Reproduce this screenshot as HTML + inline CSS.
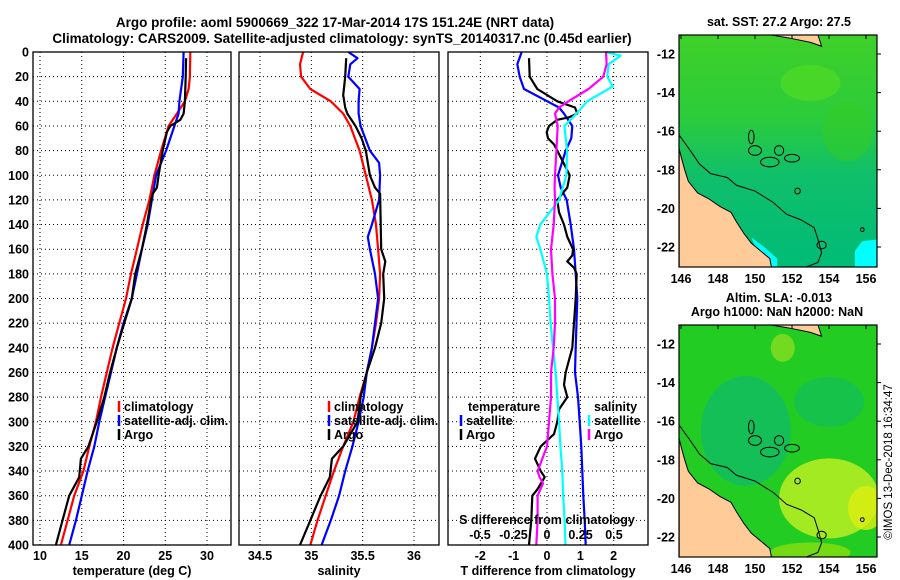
<!DOCTYPE html>
<html><head><meta charset="utf-8"><style>
html,body{margin:0;padding:0;background:#fff;}
svg{display:block;font-family:"Liberation Sans",Arial,sans-serif;font-weight:bold;}
</style></head><body>
<svg id="fig" width="900" height="580" viewBox="0 0 900 580" xmlns="http://www.w3.org/2000/svg">
<text x="335" y="27" font-size="13.5" text-anchor="middle">Argo profile: aoml 5900669_322 17-Mar-2014 17S 151.24E (NRT data)</text>
<text x="342" y="43" font-size="13.5" text-anchor="middle">Climatology: CARS2009. Satellite-adjusted climatology: synTS_20140317.nc (0.45d earlier)</text>
<g id="p1"></g>
<g id="p2"></g>
<g id="p3"></g>
<g id="m1"></g>
<g id="m2"></g>
<text transform="translate(892,462) rotate(-90)" font-size="11.5" font-weight="normal" text-anchor="middle">©IMOS 13-Dec-2018 16:34:47</text>
</svg>
<script>
// ---- data ----
const depthTick = [0,20,40,60,80,100,120,140,160,180,200,220,240,260,280,300,320,340,360,380,400];
const tempTicks = [10,15,20,25,30];
const salTicks = [34.5,35,35.5,36];
const tdiffTicks = [-2,-1,0,1,2];
const sdiffTicks = [-0.5,-0.25,0,0.25,0.5];
const sdiffLabels = ["-0.5","-0.25","0","0.25","0.5"];

const climTDepth = [0,20,30,40,50,60,80,100,120,140,160,180,200,220,240,260,280,300,320,340,360,380,400];
const climT = [28.0,27.95,27.8,27.35,26.4,25.4,24.5,23.7,23.1,22.3,21.6,20.9,20.3,19.5,18.7,18.0,17.3,16.7,15.9,15.2,14.1,13.3,12.5];
const satTDepth = [0,20,40,50,60,80,100,120,140,160,180,200,220,240,260,280,300,320,340,360,380,400];
const satT = [27.2,27.1,26.7,26.6,26.1,25.1,23.9,23.4,22.9,22.2,21.6,21.0,20.0,19.2,18.5,17.8,17.1,16.5,15.7,15.0,14.3,13.5];
const argoTDepth = [5,20,40,50,55,60,65,80,100,110,115,120,140,160,180,200,220,240,260,280,300,320,330,345,360,380,400];
const argoT = [27.5,27.45,27.35,27.2,26.8,25.6,25.2,24.7,24.2,24.0,23.5,23.3,22.8,22.2,21.4,21.0,20.1,19.2,18.4,17.7,16.8,15.8,14.9,14.7,13.5,12.7,11.9];

const climSDepth = [0,10,20,30,40,50,60,80,100,120,140,160,180,200,220,240,260,280,300,320,340,360,380,400];
const climS = [34.92,34.89,34.90,34.99,35.19,35.31,35.38,35.47,35.53,35.59,35.63,35.65,35.67,35.66,35.63,35.59,35.54,35.47,35.41,35.31,35.22,35.14,35.06,34.99];
const satSDepth = [0,5,10,20,30,40,50,60,80,90,100,120,140,150,160,180,200,220,240,260,280,300,320,340,360,380,400];
const satS = [35.36,35.45,35.38,35.36,35.47,35.46,35.46,35.48,35.57,35.66,35.67,35.66,35.59,35.55,35.57,35.62,35.65,35.62,35.59,35.54,35.51,35.46,35.40,35.33,35.27,35.19,35.10];
const argoSDepth = [5,20,35,45,50,60,70,80,100,110,115,160,170,180,200,220,240,260,280,300,320,330,345,360,380,400];
const argoS = [35.34,35.33,35.31,35.33,35.35,35.43,35.49,35.53,35.57,35.62,35.67,35.68,35.72,35.70,35.71,35.68,35.62,35.54,35.48,35.45,35.31,35.20,35.18,35.09,34.99,34.89];

const satTdDepth = [0,10,20,30,40,45,50,60,70,80,100,110,120,140,160,180,200,240,260,280,300,320,340,360,380,400];
const satTd = [-0.76,-0.89,-0.82,-0.69,0.01,0.36,0.51,0.76,0.73,0.56,0.33,0.41,0.59,0.71,0.81,0.86,0.91,0.86,0.84,0.93,0.98,1.03,1.06,1.09,1.13,1.16];
const argoTdDepth = [5,20,30,40,45,50,53,55,60,65,70,75,80,100,110,120,130,140,150,160,165,170,175,180,200,220,240,260,270,280,290,300,310,320,330,340,345,355,360,380,400];
const argoTd = [-0.54,-0.52,-0.29,0.31,0.84,0.91,0.66,0.31,0.06,-0.01,0.03,0.21,0.31,0.68,0.61,0.31,0.36,0.51,0.61,0.78,0.76,0.61,0.81,0.89,0.86,0.81,0.76,0.56,0.51,0.61,0.36,0.31,0.21,-0.19,-0.36,-0.19,-0.07,-0.29,-0.44,-0.47,-0.54];
const satSdDepth = [0,3,10,20,28,40,50,60,80,100,120,140,150,160,180,200,220,240,260,280,300,320,340,360,380,400];
const satSd = [0.436,0.55,0.46,0.45,0.49,0.30,0.22,0.13,0.15,0.145,0.09,-0.05,-0.08,-0.05,0.0,0.015,0.027,0.045,0.064,0.077,0.09,0.10,0.114,0.121,0.131,0.138];
const argoSdDepth = [0,10,20,30,40,45,50,60,80,100,110,120,140,160,180,200,220,240,260,280,300,320,340,345,350,355,360,380,400];
const argoSd = [0.44,0.445,0.42,0.31,0.16,0.09,0.06,0.08,0.07,0.06,0.057,0.06,0.05,0.03,0.04,0.06,0.06,0.05,0.03,0.03,0.015,0.0,-0.07,-0.055,-0.03,-0.05,-0.07,-0.07,-0.08];

// ---- helpers ----
const NS="http://www.w3.org/2000/svg";
function mk(tag,parent,attrs){const e=document.createElementNS(NS,tag);for(const k in attrs)e.setAttribute(k,attrs[k]);parent.appendChild(e);return e;}
const PT=52, PB=545;
const yD = d => PT + d*(PB-PT)/400;

function panel(g, x0, x1, ticks, labels, sx, title, showY){
  for(const t of ticks){
    const l=mk('line',g,{x1:sx(t),x2:sx(t),y1:PT,y2:PB,stroke:'#000','stroke-width':1,'stroke-dasharray':'1,3'});
    
    
  }
  depthTick.forEach((d,i)=>{
    if(i>0&&i<depthTick.length-1){
      const l=mk('line',g,{x1:x0,x2:x1,y1:yD(d),y2:yD(d),stroke:'#000','stroke-width':1,'stroke-dasharray':'1,3'});
      
      
    }
    if(showY){
      const t=mk('text',g,{x:x0-4,y:yD(d)+4.5,'font-size':12.5,'text-anchor':'end'});
      t.textContent=d;
      
      
    }
  });
  ticks.forEach((t,i)=>{
    const tx=mk('text',g,{x:sx(t),y:560,'font-size':12.5,'text-anchor':'middle'});
    tx.textContent=labels[i];
    
    
  });
  const tt=mk('text',g,{x:(x0+x1)/2,y:575,'font-size':12.5,'text-anchor':'middle'});
  tt.textContent=title;
  
  
}
function line(g, depths, vals, sx, color, name){
  const p=depths.map((d,i)=>(i?'L':'M')+sx(vals[i]).toFixed(1)+','+yD(d).toFixed(1)).join('');
  const e=mk('path',g,{d:p,fill:'none',stroke:color,'stroke-width':2.2,'stroke-linejoin':'round'});
  
  
}
function frame(g,x0,x1){
  const r=mk('rect',g,{x:x0,y:PT,width:x1-x0,height:PB-PT,fill:'none',stroke:'#000','stroke-width':1.3});
  
  
}
function legend(g,x,y,items){
  items.forEach((it,i)=>{
    const b=mk('line',g,{x1:x,x2:x,y1:y+i*14-10,y2:y+i*14+1,stroke:it[1],'stroke-width':2.5});
    
    
    const t=mk('text',g,{x:x+5,y:y+i*14,'font-size':12.5});
    t.textContent=it[0];
    
    
  });
}

// panel 1
const g1=document.getElementById('p1');
const sT=v=>40+(v-10)*8.35;
panel(g1,33,231,tempTicks,tempTicks.map(String),sT,'temperature (deg C)',true);
line(g1,climTDepth,climT,sT,'#ff0000','climatology-temp-line');
line(g1,satTDepth,satT,sT,'#0000ff','satellite-temp-line');
line(g1,argoTDepth,argoT,sT,'#000','argo-temp-line');
legend(g1,119,411,[['climatology','#ff0000'],['satellite-adj. clim.','#0000ff'],['Argo','#000']]);
frame(g1,33,231);

// panel 2
const g2=document.getElementById('p2');
const sS=v=>260+(v-34.5)*102.67;
panel(g2,239,439,salTicks,salTicks.map(String),sS,'salinity',false);
line(g2,climSDepth,climS,sS,'#ff0000','climatology-salinity-line');
line(g2,satSDepth,satS,sS,'#0000ff','satellite-salinity-line');
line(g2,argoSDepth,argoS,sS,'#000','argo-salinity-line');
legend(g2,329,411,[['climatology','#ff0000'],['satellite-adj. clim.','#0000ff'],['Argo','#000']]);
frame(g2,239,439);

// panel 3
const g3=document.getElementById('p3');
const sTd=v=>547+v*33.33;
const sSd=v=>547+v*134;
panel(g3,448,648,tdiffTicks,tdiffTicks.map(String),sTd,'T difference from climatology',false);
line(g3,satTdDepth,satTd,sTd,'#0000ff','satellite-tdiff-line');
line(g3,argoTdDepth,argoTd,sTd,'#000','argo-tdiff-line');
line(g3,satSdDepth,satSd,sSd,'#00ffff','satellite-sdiff-line');
line(g3,argoSdDepth,argoSd,sSd,'#ff00ff','argo-sdiff-line');
{
  const t=mk('text',g3,{x:468,y:411,'font-size':12.5});t.textContent='temperature';
  
  
  const s=mk('text',g3,{x:594,y:411,'font-size':12.5});s.textContent='salinity';
  
  
}
legend(g3,461,425,[['satellite','#0000ff'],['Argo','#000']]);
legend(g3,589,425,[['satellite','#00ffff'],['Argo','#ff00ff']]);
{
  const t=mk('text',g3,{x:547,y:524,'font-size':12.5,'text-anchor':'middle'});t.textContent='S difference from climatology';
  
  
  sdiffTicks.forEach((v,i)=>{
    const tx=mk('text',g3,{x:sSd(v),y:539,'font-size':12.5,'text-anchor':'middle'});
    tx.textContent=sdiffLabels[i];
    
    
  });
}
frame(g3,448,648);

// maps
const lonTicks=[146,148,150,152,154,156];
const latTicks=[-12,-14,-16,-18,-20,-22];
const landLL=[[145.9,-16.9],[146.0,-17.3],[146.2,-18.0],[146.4,-18.6],[146.9,-19.2],[147.5,-19.5],[148.1,-19.9],[148.7,-20.2],[149.0,-20.7],[149.4,-21.3],[149.8,-21.8],[150.3,-22.2],[150.8,-22.6],[150.9,-23.1],[145.9,-23.1]];
const contourLL=[[145.9,-16.2],[146.5,-17.0],[147.0,-17.7],[147.6,-18.2],[148.5,-18.4],[149.0,-18.8],[150.0,-19.1],[151.0,-19.7],[151.7,-20.3],[152.5,-20.6],[153.2,-21.0],[153.4,-21.6],[153.6,-22.3],[153.4,-22.8],[152.6,-23.1]];
const reefLL=[[149.8,-16.3,0.15,0.35],[150.0,-17.0,0.35,0.25],[150.8,-17.6,0.5,0.25],[151.3,-17.0,0.25,0.25],[152.0,-17.4,0.4,0.2],[152.3,-19.1,0.15,0.15],[153.6,-21.9,0.25,0.2],[155.8,-21.1,0.1,0.1]];

function map(g,top,bottom,title1,title2,kind){
  const x0=679,x1=877;
  const lonX=l=>681+(l-146)*18.5;
  const latY=l=>top+19+(-12-l)*19.3;
  const id='clip'+kind;
  const cp=mk('clipPath',g,{id:id});mk('rect',cp,{x:x0,y:top,width:x1-x0,height:bottom-top});
  const c=mk('g',g,{'clip-path':'url(#'+id+')'});
  const defs=mk('defs',g,{});
  if(kind==='sst'){
    const lg=mk('linearGradient',defs,{id:'gs',x1:0,y1:0,x2:0,y2:1});
    mk('stop',lg,{offset:'0','stop-color':'#3fd02a'});
    mk('stop',lg,{offset:'0.35','stop-color':'#2ccc3a'});
    mk('stop',lg,{offset:'0.6','stop-color':'#10bf6a'});
    mk('stop',lg,{offset:'1','stop-color':'#00bb77'});
    mk('rect',c,{x:x0,y:top,width:x1-x0,height:bottom-top,fill:'url(#gs)'});
    mk('ellipse',c,{cx:lonX(153),cy:latY(-13.5),rx:30,ry:18,fill:'#55dd22',opacity:0.6});
    mk('ellipse',c,{cx:lonX(155),cy:latY(-16),rx:25,ry:30,fill:'#33cc22',opacity:0.5});
    mk('path',c,{d:`M${lonX(155.4)},${latY(-23.1)}L${lonX(155.4)},${latY(-22.2)}L${lonX(155.8)},${latY(-21.7)}L${lonX(156.7)},${latY(-21.6)}L${lonX(156.7)},${latY(-23.1)}Z`,fill:'#00ffff'});
    mk('path',c,{d:`M${lonX(149.8)},${latY(-21.5)}L${lonX(150.5)},${latY(-22.0)}L${lonX(151.2)},${latY(-22.6)}L${lonX(151.2)},${latY(-23.1)}L${lonX(150.5)},${latY(-23.1)}Z`,fill:'#00ffff'});
  } else {
    mk('rect',c,{x:x0,y:top,width:x1-x0,height:bottom-top,fill:'#22cc22'});
    mk('ellipse',c,{cx:lonX(149.5),cy:latY(-16.5),rx:45,ry:55,fill:'#11bb66',opacity:0.8});
    mk('ellipse',c,{cx:lonX(154),cy:latY(-15),rx:35,ry:25,fill:'#11bb66',opacity:0.6});
    mk('ellipse',c,{cx:lonX(154),cy:latY(-20),rx:50,ry:40,fill:'#bbee22',opacity:0.85});
    mk('ellipse',c,{cx:lonX(151.5),cy:latY(-12.2),rx:12,ry:14,fill:'#88dd22',opacity:0.8});
    mk('ellipse',c,{cx:lonX(156),cy:latY(-20.5),rx:18,ry:22,fill:'#ddee11',opacity:0.8});
    mk('ellipse',c,{cx:lonX(153),cy:latY(-22.8),rx:40,ry:10,fill:'#88dd11',opacity:0.8});
  }
  const land=mk('path',c,{d:landLL.map((p,i)=>(i?'L':'M')+lonX(p[0])+','+latY(p[1])).join('')+'Z',fill:'#ffcc99',stroke:'#000','stroke-width':1});
  
  
  mk('path',c,{d:`M${lonX(150.8)},${latY(-11.0)}L${lonX(152)},${latY(-11.2)}L${lonX(153)},${latY(-11.4)}L${lonX(153.6)},${latY(-11.6)}L${lonX(153.4)},${latY(-11.0)}Z`,fill:'#ffcc99',stroke:'#000','stroke-width':1});
  const ct=mk('path',c,{d:contourLL.map((p,i)=>(i?'L':'M')+lonX(p[0])+','+latY(p[1])).join(''),fill:'none',stroke:'#000','stroke-width':1});
  
  
  for(const r of reefLL){
    mk('ellipse',c,{cx:lonX(r[0]),cy:latY(r[1]),rx:r[2]*18.5,ry:r[3]*19.3,fill:'none',stroke:'#000','stroke-width':1});
  }
  const fr=mk('rect',g,{x:x0,y:top,width:x1-x0,height:bottom-top,fill:'none',stroke:'#000','stroke-width':1.2});
  
  
  for(const l of lonTicks){
    mk('line',g,{x1:lonX(l),x2:lonX(l),y1:top,y2:top+4,stroke:'#000'});
    const t=mk('text',g,{x:lonX(l),y:bottom+16,'font-size':12.5,'text-anchor':'middle'});
    t.textContent=l;
    
    
  }
  for(const l of latTicks){
    mk('line',g,{x1:x1,x2:x1+4,y1:latY(l),y2:latY(l),stroke:'#000'});
    const t=mk('text',g,{x:675,y:latY(l)+4.5,'font-size':12.5,'text-anchor':'end'});
    t.textContent=l;
    
    
  }
  const t1=mk('text',g,{x:779,y:title2?302:top-9,'font-size':12.5,'text-anchor':'middle'});
  t1.textContent=title1;
  
  
  if(title2){
    const t2=mk('text',g,{x:777,y:316,'font-size':12.5,'text-anchor':'middle'});
    t2.textContent=title2;
    
    
  }
}
map(document.getElementById('m1'),35,267,'sat. SST: 27.2 Argo: 27.5',null,'sst');
map(document.getElementById('m2'),325,557,'Altim. SLA: -0.013','Argo h1000: NaN h2000: NaN','sla');
</script>
</body></html>
